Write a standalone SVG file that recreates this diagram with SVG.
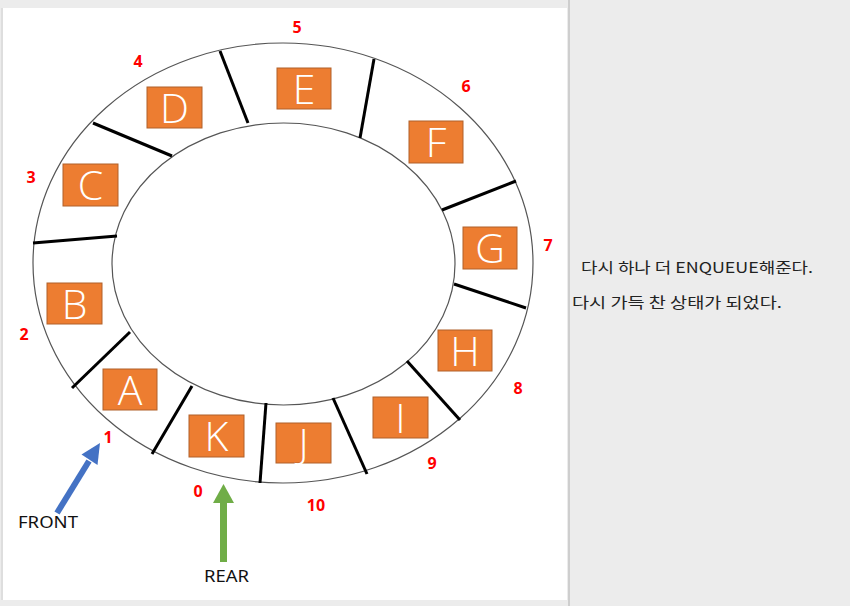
<svg xmlns="http://www.w3.org/2000/svg" width="850" height="606" viewBox="0 0 850 606">
<style>
.box rect{fill:#ED7D31;stroke:#B0612A;stroke-width:1}
.box text{fill:#fff;font-family:"Open Sans","Noto Sans",sans-serif;font-weight:300;font-size:41px;text-anchor:middle}
.num{fill:#FF0000;font-family:"Noto Sans","Liberation Sans",sans-serif;font-weight:bold;font-size:16px;text-anchor:middle}
.div{stroke:#000;stroke-width:3;stroke-linecap:butt}
.ring{fill:none;stroke:#555;stroke-width:1.2}
.lbl{fill:#111;font-family:"Noto Sans","Liberation Sans",sans-serif;font-size:17px}
.note{fill:#222;font-family:"Noto Sans CJK KR","Noto Sans",sans-serif;font-size:14.5px}
</style>
<rect x="0" y="0" width="850" height="606" fill="#ECECEC"/>
<rect x="3" y="8" width="564" height="592" fill="#FFFFFF"/>
<line x1="2" y1="8" x2="2" y2="600" stroke="#D0D0D0" stroke-width="1"/>
<line x1="569" y1="0" x2="569" y2="606" stroke="#C4C4C4" stroke-width="1.5"/>

<g id="ring">
<ellipse class="ring" cx="283" cy="263" rx="250" ry="220"/>
<ellipse class="ring" cx="283.5" cy="264" rx="171.5" ry="141"/>
</g>

<g id="dividers">
<line class="div" x1="220" y1="51" x2="248" y2="123"/>
<line class="div" x1="93" y1="123" x2="172" y2="156"/>
<line class="div" x1="33" y1="243" x2="117" y2="236"/>
<line class="div" x1="72" y1="388" x2="130" y2="332"/>
<line class="div" x1="152" y1="454" x2="192" y2="386"/>
<line class="div" x1="260" y1="483" x2="266" y2="403"/>
<line class="div" x1="367" y1="474" x2="333" y2="398"/>
<line class="div" x1="460" y1="420" x2="407" y2="361"/>
<line class="div" x1="526" y1="308" x2="454" y2="284"/>
<line class="div" x1="516" y1="181" x2="442" y2="210"/>
<line class="div" x1="374" y1="59" x2="360" y2="138"/>
</g>

<g id="node-A" class="box"><rect x="103" y="369" width="54" height="41"/><text x="130" y="404.5">A</text></g>
<g id="node-B" class="box"><rect x="47" y="283" width="55" height="41"/><text x="74.5" y="318.5">B</text></g>
<g id="node-C" class="box"><rect x="63" y="164" width="55" height="42"/><text x="90.5" y="199.5">C</text></g>
<g id="node-D" class="box"><rect x="147" y="87" width="55" height="41"/><text x="174.5" y="122.5">D</text></g>
<g id="node-E" class="box"><rect x="277" y="68" width="54" height="41"/><text x="304" y="103.5">E</text></g>
<g id="node-F" class="box"><rect x="409" y="121" width="54" height="42"/><text x="436" y="156.5">F</text></g>
<g id="node-G" class="box"><rect x="463" y="227" width="54" height="42"/><text x="490" y="262.5">G</text></g>
<g id="node-H" class="box"><rect x="438" y="330" width="54" height="41"/><text x="465" y="365.5">H</text></g>
<g id="node-I" class="box"><rect x="373" y="397" width="55" height="41"/><text x="400.5" y="432.5">I</text></g>
<g id="node-J" class="box"><rect x="276" y="423" width="55" height="40"/><text x="303.5" y="457.5">J</text></g>
<g id="node-K" class="box"><rect x="189" y="415" width="55" height="42"/><text x="216.5" y="450.5">K</text></g>

<g id="indices">
<text class="num" x="297" y="33">5</text>
<text class="num" x="138" y="67">4</text>
<text class="num" x="466" y="92">6</text>
<text class="num" x="31" y="183">3</text>
<text class="num" x="548" y="251">7</text>
<text class="num" x="24" y="340">2</text>
<text class="num" x="518" y="394">8</text>
<text class="num" x="108" y="443">1</text>
<text class="num" x="432" y="469">9</text>
<text class="num" x="198" y="497">0</text>
<text class="num" x="316" y="511">10</text>
</g>

<g id="connectors">
<line x1="57" y1="513" x2="89" y2="461" stroke="#4472C4" stroke-width="6"/>
<polygon points="100,443 81.5,454.5 97.5,465" fill="#4472C4"/>
<line x1="223.5" y1="562" x2="223.5" y2="500" stroke="#70AD47" stroke-width="7"/>
<polygon points="223.5,484 213,503 234,503" fill="#70AD47"/>
</g>

<g id="label-front"><text class="lbl" x="18" y="528" textLength="60" lengthAdjust="spacingAndGlyphs">FRONT</text></g>
<g id="label-rear"><text class="lbl" x="204" y="582" textLength="45" lengthAdjust="spacingAndGlyphs">REAR</text></g>

<g id="notes">
<text class="note" x="581" y="273" textLength="232" lengthAdjust="spacingAndGlyphs">다시 하나 더 ENQUEUE해준다.</text>
<text class="note" x="572" y="308" textLength="210" lengthAdjust="spacingAndGlyphs">다시 가득 찬 상태가 되었다.</text>
</g>
</svg>
